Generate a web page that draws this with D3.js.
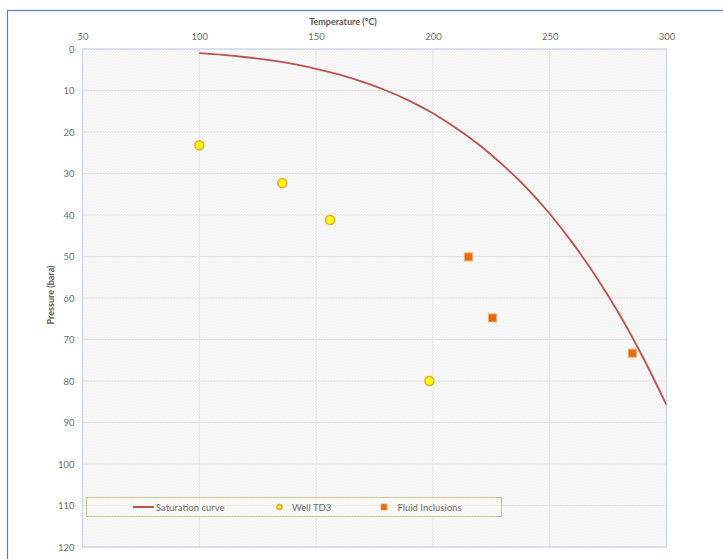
<!DOCTYPE html>
<html><head><meta charset="utf-8">
<script src="https://cdn.jsdelivr.net/npm/d3@7"></script>
<style>
html,body{margin:0;padding:0;background:#fff;}
svg{display:block;font-family:Lato,"Open Sans",sans-serif;}
</style></head>
<body>
<svg id="chart" width="723" height="559"></svg>
<script>
// Data
const satTemp = [100,110,120,130,140,150,160,170,180,190,200,210,220,230,240,250,260,270,280,290,300];
const satPres = [1.01,1.43,1.99,2.70,3.61,4.76,6.18,7.92,10.0,12.5,15.5,19.1,23.2,28.0,33.4,39.7,46.9,55.0,64.1,74.4,85.8];
const wellTemp = [100,135.5,156,198.5];
const wellPres = [23.2,32.3,41.2,80.0];
const fiTemp = [215.2,225.5,285.4];
const fiPres = [50.1,64.8,73.3];
const xTicks = [50,100,150,200,250,300];
const yTicks = [0,10,20,30,40,50,60,70,80,90,100,110,120];
const seriesNames = ["Saturation curve","Well TD3","Fluid Inclusions"];

const svg = d3.select("#chart");
const L = 82.5, R = 666.5, T = 49, B = 547;
const x = d3.scaleLinear().domain([50,300]).range([L,R]);
const y = d3.scaleLinear().domain([0,120]).range([T,B]);

// outer frame
svg.append("rect").attr("x",7.5).attr("y",10.5).attr("width",730).attr("height",560)
  .attr("fill","#fff").attr("stroke","#4f81bd").attr("stroke-width",1.2);

// hatch pattern
const defs = svg.append("defs");
const pat = defs.append("pattern").attr("id","hatch").attr("patternUnits","userSpaceOnUse")
  .attr("width",3).attr("height",3);
pat.append("rect").attr("width",3).attr("height",3).attr("fill","#fbfbfb");
pat.append("path").attr("d","M-1,1 L1,-1 M0,3 L3,0 M2,4 L4,2").attr("stroke","#ebebeb").attr("stroke-width",0.7);

defs.append("clipPath").attr("id","clip").append("rect")
  .attr("x",L).attr("y",T).attr("width",R-L).attr("height",B-T);

svg.append("rect").attr("x",L).attr("y",T).attr("width",R-L).attr("height",B-T)
  .attr("fill","url(#hatch)");

// gridlines
const grid = svg.append("g");
grid.selectAll(".gx").data(xTicks).enter().append("line")
  .attr("x1",d=>x(d)).attr("x2",d=>x(d)).attr("y1",T).attr("y2",B)
  .attr("stroke","#e3e3e3").attr("stroke-width",1);
grid.selectAll(".gy").data(yTicks).enter().append("line")
  .attr("x1",L).attr("x2",R).attr("y1",d=>y(d)).attr("y2",d=>y(d))
  .attr("stroke","#e3e3e3").attr("stroke-width",1);

// plot border
svg.append("rect").attr("x",L).attr("y",T).attr("width",R-L).attr("height",B-T)
  .attr("fill","none").attr("stroke","#c8d6e8").attr("stroke-width",1.2);

// axes
const xAxis = svg.append("g").attr("transform",`translate(0,${T})`)
  .call(d3.axisTop(x).tickValues(xTicks).tickSize(0).tickPadding(9));
const yAxis = svg.append("g").attr("transform",`translate(${L},0)`)
  .call(d3.axisLeft(y).tickValues(yTicks).tickSize(0).tickPadding(8));
[xAxis,yAxis].forEach(a=>{
  a.select(".domain").remove();
  a.selectAll("text").attr("fill","#707070").style("font-size","9.5px")
   .style("font-family",'Lato,"Open Sans",sans-serif');
});

// axis titles
svg.append("text").attr("x",343).attr("y",25).attr("text-anchor","middle")
  .attr("fill","#595959").style("font-size","9px").style("font-weight","bold").text("Temperature (°C)");
svg.append("text").attr("transform","translate(54,295) rotate(-90)").attr("text-anchor","middle")
  .attr("fill","#595959").style("font-size","9px").style("font-weight","bold").text("Pressure (bara)");

// saturation curve
const line = d3.line().x((d,i)=>x(satTemp[i])).y((d,i)=>y(satPres[i])).curve(d3.curveMonotoneX);
svg.append("path").datum(satPres).attr("clip-path","url(#clip)")
  .attr("d",line).attr("fill","none").attr("stroke","#c0504d").attr("stroke-width",1.8);

// well points
svg.selectAll(".well").data(wellTemp).enter().append("circle")
  .attr("cx",d=>x(d)).attr("cy",(d,i)=>y(wellPres[i])).attr("r",4.5)
  .attr("fill","#ffff00").attr("stroke","#f0a22e").attr("stroke-width",1.5);

// fluid inclusions
const s = 8;
svg.selectAll(".fi").data(fiTemp).enter().append("rect")
  .attr("x",d=>x(d)-s/2).attr("y",(d,i)=>y(fiPres[i])-s/2).attr("width",s).attr("height",s)
  .attr("fill","#e46c0a").attr("stroke","#f9a66b").attr("stroke-width",1);

// legend
const lg = svg.append("g");
lg.append("rect").attr("x",86.5).attr("y",497.5).attr("width",415).attr("height",19)
  .attr("fill","#f8f8f4").attr("fill-opacity",0.6).attr("stroke","#c3c39a").attr("stroke-width",1);
lg.append("line").attr("x1",133).attr("x2",154).attr("y1",507).attr("y2",507)
  .attr("stroke","#c0504d").attr("stroke-width",2);
lg.append("text").attr("x",156).attr("y",510.5).text(seriesNames[0]);
lg.append("circle").attr("cx",279.5).attr("cy",507).attr("r",2.5)
  .attr("fill","#ffff00").attr("stroke","#f0a22e").attr("stroke-width",1.5);
lg.append("text").attr("x",292).attr("y",510.5).text(seriesNames[1]);
lg.append("rect").attr("x",381).attr("y",504).attr("width",6).attr("height",6)
  .attr("fill","#e46c0a").attr("stroke","#f9a66b").attr("stroke-width",0.8);
lg.append("text").attr("x",397.5).attr("y",510.5).text(seriesNames[2]);
lg.selectAll("text").attr("fill","#707070").style("font-size","9.5px");
</script>
</body></html>
